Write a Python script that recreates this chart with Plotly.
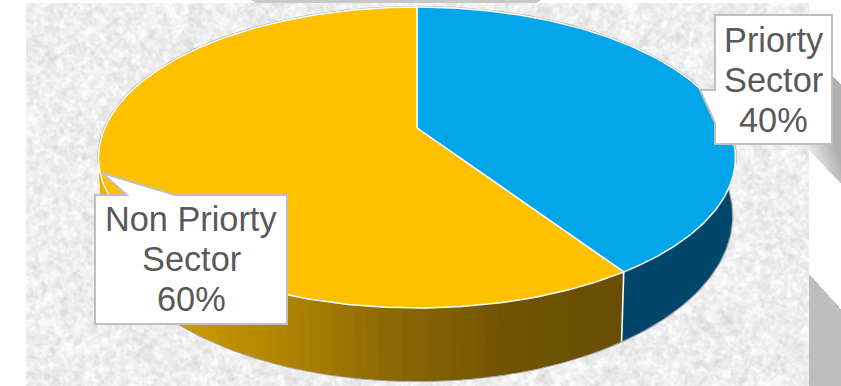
import base64
import struct
import zlib

import numpy as np
import plotly.graph_objects as go

# Chart content
categories = ["Priorty Sector", "Non Priorty Sector"]
shares = [40, 60]
label_lines = [["Priorty", "Sector"], ["Non Priorty", "Sector"]]

# Colours
TOP_COLOURS = ["#00A6E9", "#FFC000"]
BLUE_WALL = "#03466B"
TEXT_COLOUR = "#595959"
BORDER = "#BFBFBF"
RIM = "#A6A6A6"

W, H = 841, 386

# Perspective model of the pie, in page pixels
CX = 417.0
K = 0.196
TOP_X, TOP_Y0, TOP_A = 312.3, 128.0, 144.7
BOT_X, BOT_Y0, BOT_A = 309.0, 183.6, 158.7
TURN = 0.07


def rim(theta_deg, sx, y0, a):
    """Project a clockwise-from-north pie angle onto a perspective circle."""
    t = np.radians(np.asarray(theta_deg, dtype=float))
    t = t + TURN * np.sin(t)
    u, v = np.sin(t), np.cos(t)
    d = 1 + K * v
    return CX + sx * u / d, y0 - a * v / d


def top(theta):
    return rim(theta, TOP_X, TOP_Y0, TOP_A)


def bottom(theta):
    return rim(theta, BOT_X, BOT_Y0, BOT_A)


def png_uri(rgb):
    """Encode an RGB array as an inline PNG."""
    h, w, _ = rgb.shape
    raw = b"".join(b"\x00" + rgb[r].tobytes() for r in range(h))

    def chunk(tag, body):
        crc = zlib.crc32(tag + body) & 0xFFFFFFFF
        return struct.pack(">I", len(body)) + tag + body + struct.pack(">I", crc)

    data = (b"\x89PNG\r\n\x1a\n"
            + chunk(b"IHDR", struct.pack(">IIBBBBB", w, h, 8, 2, 0, 0, 0))
            + chunk(b"IDAT", zlib.compress(raw, 9))
            + chunk(b"IEND", b""))
    return "data:image/png;base64," + base64.b64encode(data).decode()


def soft_noise(rng, sigma):
    """Gaussian-smoothed grain, normalised to unit deviation."""
    fy = np.fft.fftfreq(H)[:, None]
    fx = np.fft.rfftfreq(W)[None, :]
    spec = np.fft.rfft2(rng.standard_normal((H, W)))
    spec *= np.exp(-2 * (np.pi * sigma) ** 2 * (fx ** 2 + fy ** 2))
    out = np.fft.irfft2(spec, s=(H, W))
    return out / out.std()


def backdrop():
    """White page, stone-textured panel and the grey ribbons around it."""
    rng = np.random.default_rng(11)
    yy, xx = np.mgrid[0:H, 0:W].astype(float)
    img = np.full((H, W), 255.0)

    grain = 0.7 * soft_noise(rng, 1.1) + 0.7 * soft_noise(rng, 2.4) + 0.15 * soft_noise(rng, 9)
    stone = np.clip(238 + 6.5 * grain, 205, 252)
    panel = (xx >= 26) & (xx < 809) & (yy >= 3)
    img[panel] = stone[panel]

    # Ribbon above the panel
    strip = (yy < 3) & (xx >= 252 + yy * 1.5) & (xx < 540 - yy * 1.5)
    img[strip] = 200

    # Upper ribbon to the right of the panel
    upper = (xx >= 809) & (yy < 150 + (xx - 809) * 1.06) & (yy > 75 + (xx - 832) * 1.1)
    shade = 232 - 1.3 * (xx - 809) - 0.75 * (150 + (xx - 809) * 1.06 - yy)
    img[upper] = np.clip(shade, 175, 240)[upper]

    # Lower ribbon to the right of the panel
    lower = (xx >= 809) & (yy > 274 + (xx - 809) * 1.1)
    img[lower] = 190
    return png_uri(np.repeat(img.round().astype(np.uint8)[:, :, None], 3, axis=2))


# Slice boundaries, clockwise from north
bounds = np.cumsum([0] + shares) * 3.6
seam = bounds[1]

fig = go.Figure()


def polygon(xs, ys, fill, line=None, width=0.0):
    fig.add_trace(go.Scatter(
        x=xs, y=ys, mode="lines", fill="toself", fillcolor=fill,
        line=dict(color=line or fill, width=width),
        hoverinfo="skip", showlegend=False))


def stroke(xs, ys, colour, width):
    fig.add_trace(go.Scatter(
        x=xs, y=ys, mode="lines", line=dict(color=colour, width=width),
        hoverinfo="skip", showlegend=False))


def wall_band(a, b):
    """Outline of the side wall between two pie angles."""
    span = np.linspace(a, b, max(4, int(abs(b - a))))
    xt, yt = top(span)
    xb, yb = bottom(span[::-1])
    return np.r_[xt, xb], np.r_[yt, yb]


# Thin outer outline behind everything
x, y = top(np.linspace(-100, 100, 160))
stroke(x, y, RIM, 2.4)
x, y = bottom(np.linspace(84, 276, 200))
stroke(x, y, RIM, 2.4)
xa, ya = top(84)
xb, yb = bottom(84)
stroke([xa, xb], [ya, yb], RIM, 2.4)

# Side wall: the blue stretch is flat, the yellow one is shaded along the arc
wall_stops = [144, 165, 182, 200, 218, 240, 276]
wall_r = [104, 112, 135, 172, 198, 215, 245]
wall_g = [77, 83, 102, 130, 150, 162, 185]
wall_b = [4, 4, 4, 2, 0, 0, 0]

polygon(*wall_band(84, seam), BLUE_WALL)

# Each band overlaps the next so no background shows between them
edges = np.linspace(seam, 276, 70)
step = edges[1] - edges[0]
for a in edges[:-1]:
    mid = a + step / 2
    colour = "rgb({:.0f},{:.0f},{:.0f})".format(
        np.interp(mid, wall_stops, wall_r),
        np.interp(mid, wall_stops, wall_g),
        np.interp(mid, wall_stops, wall_b))
    polygon(*wall_band(a, min(a + 2.5 * step, 276)), colour)

# White seam between the two wall sections
xa, ya = top(seam)
xb, yb = bottom(seam)
stroke([xa, xb], [ya, yb], "#FFFFFF", 1.6)

# Top face, one wedge per category
for start, end, colour in zip(bounds[:-1], bounds[1:], TOP_COLOURS):
    xt, yt = top(np.linspace(start, end, 240))
    polygon(np.r_[CX, xt, CX], np.r_[TOP_Y0, yt, TOP_Y0], colour, line="#FFFFFF", width=1.5)

# Callouts: the outline runs round the box and out to the pointer tip
right_box = "M715,15 L832,15 L832,144 L715,144 L715,123 L700,90 L715,90 Z"
left_box = "M95,195 L127,195 L102,173 L175,195 L287,195 L287,324 L95,324 Z"
shapes = [dict(type="path", path=p, xref="x", yref="y", fillcolor="#FFFFFF",
               line=dict(color=BORDER, width=2)) for p in (right_box, left_box)]

# Callout text, one line at a time for the tight line pitch
annotations = []
centres = [773.5, 191.0]
first_rows = [39.5, 218.5]
for lines, share, xc, y0 in zip(label_lines, shares, centres, first_rows):
    for i, text in enumerate(lines + [f"{share}%"]):
        annotations.append(dict(
            x=xc, y=y0 + i * 40.3, xref="x", yref="y", text=text, showarrow=False,
            xanchor="center", yanchor="middle",
            font=dict(family="Liberation Sans", size=34.3, color=TEXT_COLOUR)))

fig.update_layout(
    width=W, height=H, margin=dict(l=0, r=0, t=0, b=0),
    paper_bgcolor="#FFFFFF", plot_bgcolor="rgba(0,0,0,0)", showlegend=False,
    xaxis=dict(range=[0, W], visible=False, fixedrange=True),
    yaxis=dict(range=[H, 0], visible=False, fixedrange=True),
    shapes=shapes, annotations=annotations,
    images=[dict(source=backdrop(), xref="x", yref="y", x=0, y=0, sizex=W, sizey=H,
                 sizing="stretch", layer="below", xanchor="left", yanchor="top")])

fig.write_html("out.html", config=dict(displayModeBar=False))
